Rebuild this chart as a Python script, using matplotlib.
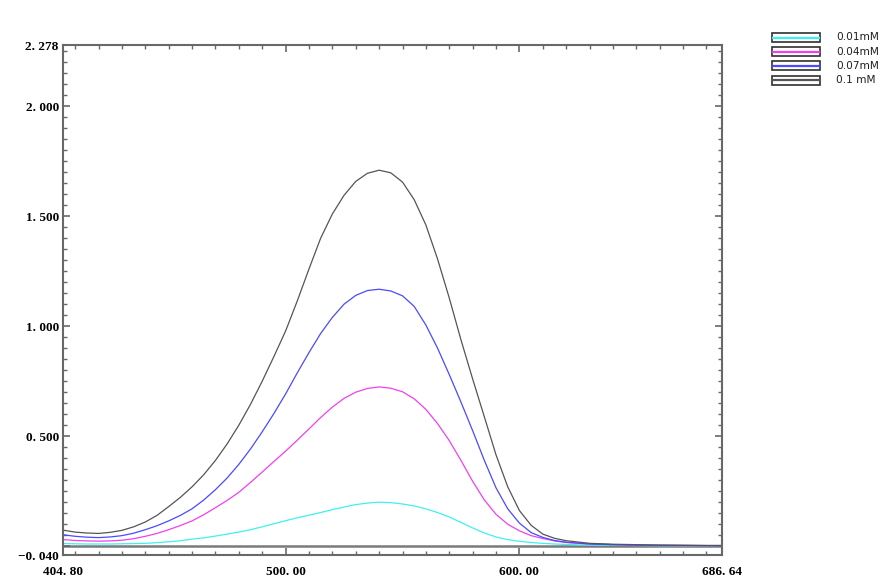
import matplotlib
matplotlib.use("Agg")
import matplotlib.pyplot as plt
import numpy as np
from matplotlib.patches import Rectangle
from matplotlib.ticker import FixedLocator, MultipleLocator

# wavelength (nm) and absorbance
wl = [404.8, 410, 415, 420, 425, 430, 435, 440, 445, 450, 455, 460, 465, 470, 475,
      480, 485, 490, 495, 500, 505, 510, 515, 520, 525, 530, 535, 540, 545, 550,
      555, 560, 565, 570, 575, 580, 585, 590, 595, 600, 605, 610, 615, 620,
      630, 640, 650, 660, 670, 680, 686.64]

a_001 = [0.012, 0.011, 0.010, 0.010, 0.010, 0.011, 0.012, 0.013, 0.016, 0.020, 0.025,
         0.032, 0.038, 0.046, 0.055, 0.064, 0.075, 0.088, 0.102, 0.116, 0.129, 0.141,
         0.153, 0.166, 0.178, 0.189, 0.196, 0.200, 0.198, 0.192, 0.183, 0.170, 0.153,
         0.133, 0.108, 0.083, 0.060, 0.042, 0.030, 0.022, 0.017, 0.013, 0.010, 0.008,
         0.005, 0.004, 0.003, 0.002, 0.002, 0.002, 0.002]
a_004 = [0.030, 0.026, 0.024, 0.023, 0.024, 0.027, 0.034, 0.045, 0.058, 0.075, 0.094,
         0.115, 0.143, 0.175, 0.208, 0.245, 0.290, 0.337, 0.385, 0.432, 0.482, 0.533,
         0.585, 0.632, 0.672, 0.700, 0.717, 0.724, 0.718, 0.702, 0.670, 0.622, 0.557,
         0.480, 0.390, 0.295, 0.210, 0.145, 0.100, 0.070, 0.048, 0.035, 0.024, 0.017,
         0.010, 0.007, 0.005, 0.004, 0.003, 0.003, 0.003]
a_007 = [0.052, 0.045, 0.041, 0.039, 0.042, 0.048, 0.059, 0.075, 0.093, 0.115, 0.140,
         0.170, 0.210, 0.257, 0.310, 0.372, 0.442, 0.520, 0.603, 0.692, 0.788, 0.880,
         0.967, 1.040, 1.100, 1.140, 1.162, 1.168, 1.160, 1.138, 1.090, 1.005, 0.900,
         0.780, 0.655, 0.525, 0.390, 0.265, 0.170, 0.105, 0.062, 0.040, 0.026, 0.018,
         0.010, 0.007, 0.005, 0.004, 0.004, 0.003, 0.003]
a_010 = [0.073, 0.064, 0.060, 0.058, 0.063, 0.072, 0.088, 0.110, 0.140, 0.180, 0.222,
         0.270, 0.325, 0.390, 0.465, 0.550, 0.645, 0.750, 0.862, 0.978, 1.115, 1.260,
         1.400, 1.510, 1.595, 1.658, 1.695, 1.709, 1.697, 1.655, 1.575, 1.460, 1.305,
         1.128, 0.938, 0.760, 0.588, 0.415, 0.270, 0.162, 0.095, 0.055, 0.036, 0.025,
         0.013, 0.009, 0.007, 0.005, 0.004, 0.003, 0.003]

labels = ['0.01mM', '0.04mM', '0.07mM', '0.1 mM']
colors = ['#40f0f0', '#f040f0', '#4a4aff', '#555555']
series = [a_001, a_004, a_007, a_010]

y_ticks = [-0.040, 0.0, 0.5, 1.0, 1.5, 2.0, 2.278]
y_ticklabels = ['\u22120. 040', '', '0. 500', '1. 000', '1. 500', '2. 000', '2. 278']
x_ticks = [404.80, 500.00, 600.00, 686.64]
x_ticklabels = ['404. 80', '500. 00', '600. 00', '686. 64']

fig = plt.figure(figsize=(8.87, 5.8), dpi=100)
ax = fig.add_axes([63/887, 25/580, 659/887, 510/580])

ax.axhline(0, color='#7a7a7a', lw=1.8, zorder=1)
for ys, c in zip(series, colors):
    ax.plot(wl, ys, color=c, lw=0.9, zorder=2)

ax.set_xlim(404.8, 686.64)
ax.set_ylim(-0.040, 2.278)

spine_c = '#686868'
for s in ax.spines.values():
    s.set_color(spine_c)
    s.set_linewidth(1.5)

ax.yaxis.set_major_locator(FixedLocator(y_ticks))
ax.set_yticklabels(y_ticklabels)
ax.yaxis.set_minor_locator(MultipleLocator(0.05))
ax.xaxis.set_major_locator(FixedLocator(x_ticks))
ax.set_xticklabels(x_ticklabels)
ax.xaxis.set_minor_locator(MultipleLocator(10))

ax.tick_params(which='both', direction='in', top=True, right=True, color=spine_c)
ax.tick_params(which='major', length=5, width=1.2)
ax.tick_params(which='minor', length=3, width=1)
ax.tick_params(axis='y', which='major', pad=3)
ax.tick_params(axis='x', which='major', pad=8)
for t in ax.get_xticklabels() + ax.get_yticklabels():
    t.set_fontfamily('Liberation Serif')
    t.set_fontweight('bold')
    t.set_fontsize(9.5)

# legend boxes outside the plot, top right
lax = fig.add_axes([0, 0, 1, 1])
lax.set_xlim(0, 887)
lax.set_ylim(580, 0)
lax.axis('off')
for i, (lab, c) in enumerate(zip(labels, colors)):
    y0 = 33 + i * 14.2
    lax.add_patch(Rectangle((772, y0), 48, 9, fill=False, ec='#303030', lw=1.2))
    lax.plot([773, 819], [y0 + 4.5, y0 + 4.5], color=c, lw=1.6)
    lax.text(836, y0 + 4.5, lab, fontsize=7.6, family='DejaVu Sans',
             va='center', ha='left', color='#202020')

fig.savefig('out.png', dpi=100)
